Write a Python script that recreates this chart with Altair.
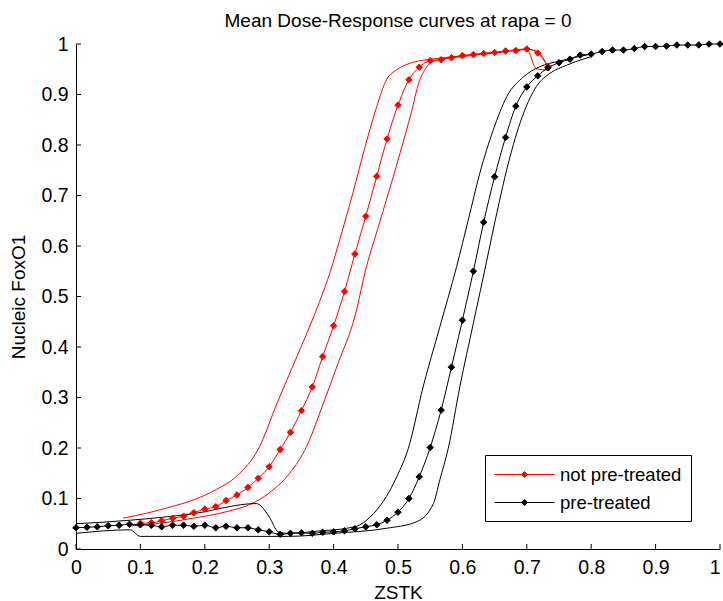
import altair as alt
import pandas as pd

# ---- data ----
red_mean_x = [0.1, 0.117, 0.133, 0.15, 0.167, 0.183, 0.2, 0.217, 0.233, 0.25, 0.267, 0.283,
              0.3, 0.317, 0.333, 0.35, 0.367, 0.383, 0.4, 0.417, 0.433, 0.45, 0.467, 0.483,
              0.5, 0.517, 0.533, 0.55, 0.567, 0.583, 0.6, 0.617, 0.633, 0.65, 0.667, 0.683,
              0.7, 0.717, 0.733]
red_mean_y = [0.051, 0.052, 0.056, 0.061, 0.065, 0.072, 0.079, 0.084, 0.096, 0.107, 0.122, 0.140,
              0.163, 0.197, 0.231, 0.274, 0.321, 0.381, 0.442, 0.510, 0.584, 0.659, 0.738, 0.812,
              0.879, 0.929, 0.954, 0.967, 0.969, 0.973, 0.977, 0.979, 0.981, 0.983, 0.986, 0.987,
              0.990, 0.982, 0.955]

red_upper_x = [0.073, 0.11, 0.146, 0.182, 0.218, 0.25, 0.284, 0.312, 0.343, 0.369, 0.394, 0.413,
               0.43, 0.449, 0.467, 0.482, 0.498, 0.519, 0.545, 0.58, 0.62, 0.66, 0.70, 0.717, 0.733]
red_upper_y = [0.061, 0.071, 0.083, 0.097, 0.118, 0.145, 0.200, 0.288, 0.381, 0.460, 0.546, 0.628,
               0.705, 0.797, 0.876, 0.929, 0.949, 0.962, 0.969, 0.974, 0.980, 0.985, 0.990, 0.984, 0.955]

red_lower_x = [0.086, 0.13, 0.182, 0.234, 0.275, 0.306, 0.332, 0.358, 0.386, 0.407, 0.433, 0.451,
               0.468, 0.485, 0.503, 0.521, 0.532, 0.545, 0.56, 0.60, 0.65, 0.70, 0.715, 0.735]
red_lower_y = [0.046, 0.051, 0.061, 0.074, 0.091, 0.117, 0.150, 0.203, 0.295, 0.368, 0.460, 0.559,
               0.632, 0.704, 0.783, 0.866, 0.922, 0.955, 0.968, 0.975, 0.982, 0.989, 0.951, 0.948]

black_mean_x = [0.0, 0.017, 0.033, 0.05, 0.067, 0.083, 0.1, 0.117, 0.133, 0.15, 0.167, 0.183,
                0.2, 0.217, 0.233, 0.25, 0.267, 0.283, 0.3, 0.317, 0.333, 0.35, 0.367, 0.383,
                0.4, 0.417, 0.433, 0.45, 0.467, 0.483, 0.5, 0.517, 0.533, 0.55, 0.567, 0.583,
                0.6, 0.617, 0.633, 0.65, 0.667, 0.683, 0.7, 0.717, 0.733, 0.75, 0.767, 0.783,
                0.8, 0.817, 0.833, 0.85, 0.867, 0.883, 0.9, 0.917, 0.933, 0.95, 0.967, 0.983, 1.0]
black_mean_y = [0.042, 0.043, 0.044, 0.046, 0.047, 0.049, 0.048, 0.047, 0.044, 0.047, 0.047, 0.045,
                0.047, 0.042, 0.045, 0.042, 0.042, 0.038, 0.034, 0.029, 0.031, 0.032, 0.031, 0.033,
                0.034, 0.036, 0.040, 0.044, 0.048, 0.057, 0.073, 0.100, 0.143, 0.201, 0.275, 0.360,
                0.453, 0.550, 0.647, 0.737, 0.815, 0.877, 0.915, 0.937, 0.953, 0.963, 0.970, 0.978,
                0.980, 0.985, 0.988, 0.988, 0.991, 0.995, 0.995, 0.996, 0.998, 0.998, 0.998, 1.0, 1.0]

black_upper_x = [0.0, 0.084, 0.182, 0.28, 0.30, 0.314, 0.33, 0.38, 0.42, 0.441, 0.462, 0.482,
                 0.498, 0.516, 0.539, 0.565, 0.591, 0.609, 0.627, 0.648, 0.669, 0.695, 0.72, 0.75, 0.8]
black_upper_y = [0.050, 0.057, 0.070, 0.090, 0.064, 0.034, 0.031, 0.036, 0.041, 0.048, 0.070, 0.104,
                 0.143, 0.199, 0.321, 0.440, 0.559, 0.651, 0.744, 0.830, 0.896, 0.935, 0.955, 0.966, 0.980]

black_lower_x = [0.0, 0.084, 0.1, 0.33, 0.40, 0.482, 0.529, 0.555, 0.565, 0.578, 0.596, 0.617,
                 0.638, 0.651, 0.674, 0.695, 0.715, 0.736, 0.762, 0.8]
black_lower_y = [0.031, 0.038, 0.025, 0.025, 0.031, 0.041, 0.054, 0.090, 0.137, 0.199, 0.321, 0.447,
                 0.572, 0.651, 0.777, 0.863, 0.916, 0.942, 0.958, 0.975]

groups = ["not pre-treated", "pre-treated"]
colors = ["#ff0000", "#000000"]
tick_values = [0.0, 0.1, 0.2, 0.3, 0.4, 0.5, 0.6, 0.7, 0.8, 0.9, 1.0]

# ---- build table ----
series = [
    ("red_upper", groups[0], red_upper_x, red_upper_y, False),
    ("red_lower", groups[0], red_lower_x, red_lower_y, False),
    ("red_mean", groups[0], red_mean_x, red_mean_y, True),
    ("black_upper", groups[1], black_upper_x, black_upper_y, False),
    ("black_lower", groups[1], black_lower_x, black_lower_y, False),
    ("black_mean", groups[1], black_mean_x, black_mean_y, True),
]
rows = []
for sidx, (sid, grp, xs, ys, is_mean) in enumerate(series):
    for i, (xv, yv) in enumerate(zip(xs, ys)):
        rows.append({"x": xv, "y": yv, "series": sid, "group": grp,
                     "mean": is_mean, "order": i, "sidx": sidx})
df = pd.DataFrame(rows)
ticks_df = pd.DataFrame({"t": tick_values})

FONT = "Liberation Sans"
W, H = 644, 505

xscale = alt.Scale(domain=[0, 1], nice=False, zero=False)
yscale = alt.Scale(domain=[0, 1], nice=False, zero=False)
cscale = alt.Scale(domain=groups, range=colors)

xaxis = alt.Axis(values=tick_values, format="~g", tickSize=0, grid=False, labelPadding=9.5,
                 title="ZSTK", titlePadding=6, labelFlush=False,
                 labelAlign={"condition": {"test": "datum.value == 1", "value": "right"},
                             "value": "center"})
yaxis = alt.Axis(values=tick_values, format="~g", tickSize=0, grid=False, labelPadding=8,
                 title="Nucleic FoxO1", titlePadding=12)

legend = alt.Legend(
    title=None, orient="none", legendX=409, legendY=411,
    symbolType="M-3,0H3M0,-0.3L0.3,0L0,0.3L-0.3,0Z",
    symbolSize=400, symbolStrokeWidth=1, labelOffset=25, symbolOffset=20,
    padding=9, rowPadding=8, strokeColor="black", fillColor="white",
    labelFont=FONT, labelFontSize=18.5, labelColor="black",
)

lines = alt.Chart(df).mark_line(strokeWidth=1, interpolate="monotone").encode(
    x=alt.X("x:Q", scale=xscale, axis=xaxis),
    y=alt.Y("y:Q", scale=yscale, axis=yaxis),
    color=alt.Color("group:N", scale=cscale, legend=legend),
    detail="series:N",
    order="order:Q",
)

points = alt.Chart(df).transform_filter("datum.mean").mark_point(
    shape="diamond", filled=False, size=42, opacity=1, strokeWidth=1
).encode(
    x=alt.X("x:Q", scale=xscale),
    y=alt.Y("y:Q", scale=yscale),
    color=alt.Color("group:N", scale=cscale, legend=legend),
    fill=alt.Fill("group:N", scale=cscale, legend=legend),
)

xticks = alt.Chart(ticks_df).mark_rule(color="black", strokeWidth=1).encode(
    x=alt.X("t:Q", scale=xscale),
    y=alt.value(H), y2=alt.value(H - 5),
)
yticks = alt.Chart(ticks_df).mark_rule(color="black", strokeWidth=1).encode(
    y=alt.Y("t:Q", scale=yscale),
    x=alt.value(0), x2=alt.value(5),
)

chart = alt.layer(lines, points, xticks, yticks).properties(
    width=W, height=H,
    title=alt.TitleParams("Mean Dose-Response curves at rapa = 0", font=FONT, fontSize=19,
                          fontWeight="normal", color="black", anchor="middle", offset=3),
    autosize=alt.AutoSizeParams(type="none"),
    padding={"left": 76, "top": 44, "right": 3, "bottom": 52},
).configure_view(stroke=None).configure_axis(
    domainColor="black", domainWidth=1, labelColor="black", titleColor="black",
    labelFont=FONT, titleFont=FONT, labelFontSize=19.5, titleFontSize=19,
    titleFontWeight="normal",
)

chart.save("out.html", embed_options={"renderer": "svg", "actions": False})
